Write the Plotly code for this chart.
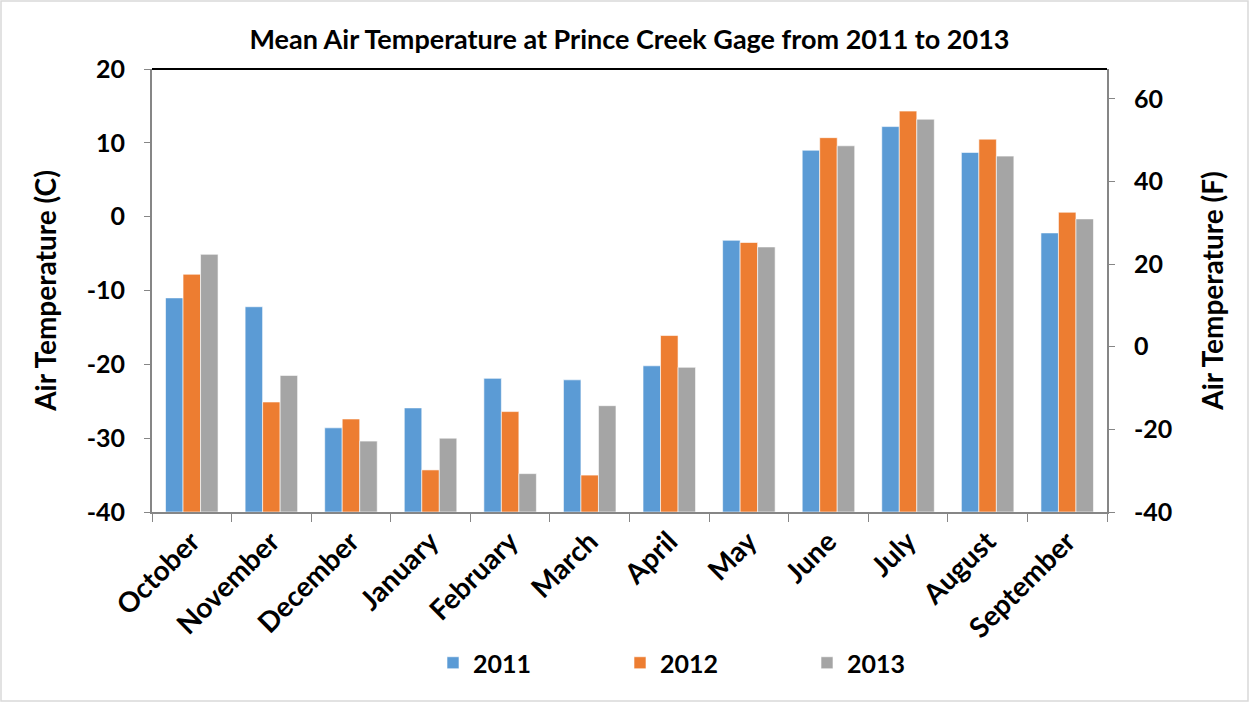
import plotly.graph_objects as go

months = ["October", "November", "December", "January", "February", "March",
          "April", "May", "June", "July", "August", "September"]
years = ["2011", "2012", "2013"]
temp_2011 = [-11.0, -12.2, -28.6, -25.9, -21.9, -22.1, -20.2, -3.2, 9.0, 12.2, 8.7, -2.2]
temp_2012 = [-7.8, -25.1, -27.4, -34.3, -26.4, -35.0, -16.1, -3.5, 10.7, 14.3, 10.5, 0.6]
temp_2013 = [-5.1, -21.5, -30.4, -30.0, -34.8, -25.6, -20.4, -4.1, 9.6, 13.2, 8.2, -0.3]
c_ticks = [-40, -30, -20, -10, 0, 10, 20]
c_labels = ["-40", "-30", "-20", "-10", "0", "10", "20"]
f_ticks = [-40, -20, 0, 20, 40, 60]
f_labels = ["-40", "-20", "0", "20", "40", "60"]
colors = ["#5B9BD5", "#ED7D31", "#A5A5A5"]

FONT = "Lato"
W, H = 1249, 702
L, R, T, B = 152, 142, 69, 190
AXIS_MIN = -40  # Excel draws the bars up from the bottom of the axis

fig = go.Figure()
for name, vals, col in zip(years, [temp_2011, temp_2012, temp_2013], colors):
    fig.add_trace(go.Bar(x=months, y=[v - AXIS_MIN for v in vals], base=AXIS_MIN,
                         name=name, marker_color=col, customdata=vals,
                         hovertemplate="%{x}: %{customdata} °C<extra>" + name + "</extra>",
                         marker_line=dict(color="white", width=0.6)))

# invisible trace to carry the Fahrenheit axis
temp_f = [c * 9 / 5 + 32 for c in temp_2011]
fig.add_trace(go.Scatter(x=months, y=temp_f, yaxis="y2", mode="lines",
                         line=dict(width=0), opacity=0, showlegend=False,
                         hoverinfo="skip"))

tickfont = dict(family=FONT, size=25, color="black", weight="bold")
monthfont = dict(family=FONT, size=28, color="black", weight="bold")
titlefont = dict(family=FONT, size=28, color="black", weight="bold")

fig.update_layout(
    width=W, height=H,
    margin=dict(l=L, r=R, t=T, b=B),
    paper_bgcolor="white", plot_bgcolor="white",
    title=dict(text="<b>Mean Air Temperature at Prince Creek Gage from 2011 to 2013</b>",
               x=0.5, xref="paper", y=1 - 40 / H, yanchor="middle",
               font=dict(family=FONT, size=27, color="black")),
    barmode="group", bargap=0.34, bargroupgap=0,
    xaxis=dict(tickangle=-45, tickfont=monthfont, tickson="boundaries",
               ticks="outside", ticklen=8, tickcolor="#868686",
               showline=True, linecolor="#868686", linewidth=2, showgrid=False),
    yaxis=dict(range=[-40, 20], tickvals=c_ticks, ticktext=c_labels, tickfont=tickfont,
               ticks="outside", ticklen=6, tickcolor="#868686",
               showline=True, linecolor="#868686", linewidth=2, showgrid=False,
               zeroline=False, ticklabelstandoff=14,
               title=dict(text="Air Temperature (C)", font=titlefont, standoff=22)),
    yaxis2=dict(range=[-40, 67.2], tickvals=f_ticks, ticktext=f_labels, tickfont=tickfont,
                overlaying="y", side="right", ticks="outside", ticklen=6,
                tickcolor="#868686", showline=True, linecolor="#868686", linewidth=2,
                showgrid=False, zeroline=False, ticklabelstandoff=14,
                title=dict(text="Air Temperature (F)", font=titlefont, standoff=32)),
    legend=dict(orientation="h", x=(433 - L) / (W - L - R), xanchor="left",
                y=-(663 - (H - B)) / (H - T - B), yanchor="middle",
                font=dict(family=FONT, size=25, color="black", weight="bold"),
                entrywidth=142, entrywidthmode="pixels", traceorder="normal"),
    shapes=[
        dict(type="line", xref="paper", yref="paper", x0=0, x1=1, y0=1, y1=1,
             line=dict(color="black", width=2)),
        dict(type="rect", xref="paper", yref="paper",
             x0=-(L - 1) / (W - L - R), x1=1 + (R - 1) / (W - L - R),
             y0=-(B - 1) / (H - T - B), y1=1 + (T - 1) / (H - T - B),
             line=dict(color="#D9D9D9", width=1.5)),
    ],
)

fig.write_html("out.html", config={"displayModeBar": False},
               post_script="document.body.style.margin='0';")
